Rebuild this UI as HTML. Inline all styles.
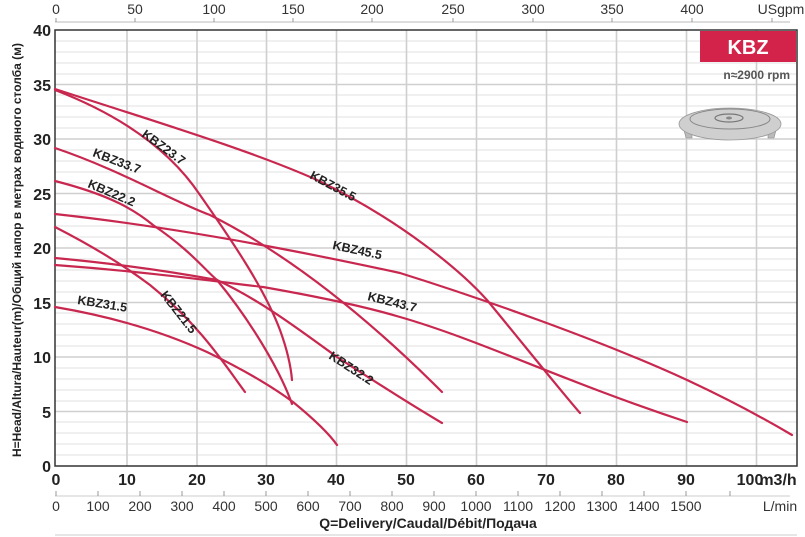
<!DOCTYPE html>
<html><head><meta charset="utf-8"><style>
html,body{margin:0;padding:0;background:#fff;}
svg{display:block;font-family:"Liberation Sans",Arial,sans-serif;}
.n{font-family:"Liberation Sans Narrow","Liberation Sans",Arial,sans-serif;}
</style></head><body>
<svg width="805" height="537" viewBox="0 0 805 537" xmlns="http://www.w3.org/2000/svg">
<g id="grid">
<g stroke="#e2e2e2" stroke-width="1">
<line x1="55" x2="797" y1="41" y2="41"/><line x1="55" x2="797" y1="52" y2="52"/><line x1="55" x2="797" y1="63" y2="63"/><line x1="55" x2="797" y1="74" y2="74"/>
<line x1="55" x2="797" y1="95" y2="95"/><line x1="55" x2="797" y1="106" y2="106"/><line x1="55" x2="797" y1="117" y2="117"/><line x1="55" x2="797" y1="128" y2="128"/>
<line x1="55" x2="797" y1="150" y2="150"/><line x1="55" x2="797" y1="161" y2="161"/><line x1="55" x2="797" y1="172" y2="172"/><line x1="55" x2="797" y1="183" y2="183"/>
<line x1="55" x2="797" y1="204" y2="204"/><line x1="55" x2="797" y1="215" y2="215"/><line x1="55" x2="797" y1="226" y2="226"/><line x1="55" x2="797" y1="237" y2="237"/>
<line x1="55" x2="797" y1="259" y2="259"/><line x1="55" x2="797" y1="270" y2="270"/><line x1="55" x2="797" y1="281" y2="281"/><line x1="55" x2="797" y1="292" y2="292"/>
<line x1="55" x2="797" y1="313" y2="313"/><line x1="55" x2="797" y1="324" y2="324"/><line x1="55" x2="797" y1="335" y2="335"/><line x1="55" x2="797" y1="346" y2="346"/>
<line x1="55" x2="797" y1="368" y2="368"/><line x1="55" x2="797" y1="379" y2="379"/><line x1="55" x2="797" y1="390" y2="390"/><line x1="55" x2="797" y1="401" y2="401"/>
<line x1="55" x2="797" y1="422" y2="422"/><line x1="55" x2="797" y1="433" y2="433"/><line x1="55" x2="797" y1="444" y2="444"/><line x1="55" x2="797" y1="455" y2="455"/>
</g>
<g stroke="#e2e2e2" stroke-width="1" id="vminor"></g>
<g stroke="#cfcfcf" stroke-width="1.6">
<line x1="55" x2="797" y1="84.5" y2="84.5"/><line x1="55" x2="797" y1="139" y2="139"/><line x1="55" x2="797" y1="193.5" y2="193.5"/><line x1="55" x2="797" y1="248" y2="248"/>
<line x1="55" x2="797" y1="302.5" y2="302.5"/><line x1="55" x2="797" y1="357" y2="357"/><line x1="55" x2="797" y1="411.5" y2="411.5"/>
<line y1="30" y2="466" x1="127" x2="127"/><line y1="30" y2="466" x1="197" x2="197"/><line y1="30" y2="466" x1="266.5" x2="266.5"/><line y1="30" y2="466" x1="336.5" x2="336.5"/>
<line y1="30" y2="466" x1="406.5" x2="406.5"/><line y1="30" y2="466" x1="476.5" x2="476.5"/><line y1="30" y2="466" x1="546.5" x2="546.5"/><line y1="30" y2="466" x1="616.5" x2="616.5"/>
<line y1="30" y2="466" x1="686.5" x2="686.5"/><line y1="30" y2="466" x1="756.5" x2="756.5"/>
</g>
</g>
<script>
(function(){var g=document.getElementById('vminor');var s='';for(var q=2;q<106;q+=2){if(q%10==0)continue;var x=56.5+6.995*q;if(x>796)break;s+='<line y1="30" y2="466" x1="'+x.toFixed(1)+'" x2="'+x.toFixed(1)+'"/>';}g.innerHTML=s;})();
</script>
<rect x="55" y="30" width="742" height="436" fill="none" stroke="#333" stroke-width="1.5"/>
<rect x="700" y="31" width="96" height="31" fill="#d3234b"/>
<text x="748" y="54" font-size="20" font-weight="bold" fill="#fff" text-anchor="middle">KBZ</text>
<text x="790" y="79" font-size="12" font-weight="bold" fill="#555" text-anchor="end">n≈2900 rpm</text>
<g>
<path d="M684 130 L686 138 L692 138 L692 134 L768 134 L768 138 L774 138 L776 130 Z" fill="#bbb" stroke="#888" stroke-width="0.6"/>
<ellipse cx="730" cy="124" rx="51" ry="16" fill="#cfcfcf" stroke="#999" stroke-width="0.8"/>
<ellipse cx="730" cy="119" rx="40" ry="10" fill="none" stroke="#888" stroke-width="1"/>
<ellipse cx="729" cy="118" rx="14" ry="4" fill="none" stroke="#777" stroke-width="1.2"/>
<ellipse cx="729" cy="118" rx="3" ry="1.5" fill="#888"/>
</g>
<g fill="none" stroke="#c8284f" stroke-width="2.2" stroke-linecap="round" stroke-linejoin="round">
<path d="M55 89 C150 120 250 150 317 180 C400 220 460 270 487 300 C520 340 560 390 580 413"/>
<path d="M55 90 C120 115 170 150 200 195 C235 245 265 290 280 330 C288 352 291 368 292 380"/>
<path d="M55 148 C120 170 170 200 210 215 C300 260 380 330 442 392"/>
<path d="M55 181 C110 195 135 210 153 225 C190 250 205 270 217 280 C250 320 280 370 292 404"/>
<path d="M55 214 C200 230 340 260 400 273 C480 298 600 340 687 380 C730 400 770 422 792 435"/>
<path d="M55 258 C130 265 190 275 217 280 C260 300 300 330 337 357 C380 385 420 410 442 423"/>
<path d="M55 265 C150 272 220 282 263 287 C320 297 370 308 400 317 C480 340 560 380 687 422"/>
<path d="M55 227 C100 250 130 270 150 285 C200 325 225 365 245 392"/>
<path d="M55 307 C120 318 170 335 207 352 C240 368 270 385 293 402 C315 420 330 435 337 445"/>
</g>
<g font-size="12.5" font-weight="bold" fill="#222">
<text transform="translate(141,136) rotate(36)">KBZ23.7</text>
<text transform="translate(92,156) rotate(21)">KBZ33.7</text>
<text transform="translate(87,187) rotate(23)">KBZ22.2</text>
<text transform="translate(309,178) rotate(28)">KBZ35.5</text>
<text transform="translate(332,249) rotate(12)">KBZ45.5</text>
<text transform="translate(367,300) rotate(14)">KBZ43.7</text>
<text transform="translate(77,304) rotate(9)">KBZ31.5</text>
<text transform="translate(160,295) rotate(52)">KBZ21.5</text>
<text transform="translate(328,358) rotate(33)">KBZ32.2</text>
</g>
<g class="n" font-size="16" font-weight="bold" fill="#222" text-anchor="end">
<text x="51" y="36">40</text><text x="51" y="91">35</text><text x="51" y="145">30</text><text x="51" y="200">25</text>
<text x="51" y="254">20</text><text x="51" y="309">15</text><text x="51" y="363">10</text><text x="51" y="418">5</text><text x="51" y="472">0</text>
</g>
<text class="n" transform="translate(21,250) rotate(-90)" font-size="12" font-weight="bold" fill="#222" text-anchor="middle">H=Head/Altura/Hauteur(m)/Общий напор в метрах водяного столба (м)</text>
<line x1="55" x2="790" y1="22" y2="22" stroke="#bbb" stroke-width="1"/>
<g stroke="#999"><line x1="56" x2="56" y1="18" y2="22"/><line x1="135" x2="135" y1="18" y2="22"/><line x1="214" x2="214" y1="18" y2="22"/><line x1="293" x2="293" y1="18" y2="22"/><line x1="372" x2="372" y1="18" y2="22"/><line x1="453" x2="453" y1="18" y2="22"/><line x1="533" x2="533" y1="18" y2="22"/><line x1="612" x2="612" y1="18" y2="22"/><line x1="692" x2="692" y1="18" y2="22"/><line x1="772" x2="772" y1="18" y2="22"/></g>
<g class="n" font-size="14" fill="#333" text-anchor="middle">
<text x="56" y="14">0</text><text x="135" y="14">50</text><text x="214" y="14">100</text><text x="293" y="14">150</text><text x="372" y="14">200</text>
<text x="453" y="14">250</text><text x="533" y="14">300</text><text x="612" y="14">350</text><text x="692" y="14">400</text><text x="781" y="14">USgpm</text>
</g>
<g class="n" font-size="16" font-weight="bold" fill="#222" text-anchor="middle">
<text x="56" y="485">0</text><text x="127" y="485">10</text><text x="197" y="485">20</text><text x="266" y="485">30</text><text x="336" y="485">40</text>
<text x="406" y="485">50</text><text x="476" y="485">60</text><text x="546" y="485">70</text><text x="616" y="485">80</text><text x="686" y="485">90</text>
<text x="750" y="485">100</text><text x="778" y="485">m3/h</text>
</g>
<line x1="55" x2="790" y1="496" y2="496" stroke="#ccc"/>
<g stroke="#999"><line x1="56" x2="56" y1="491" y2="496"/><line x1="98" x2="98" y1="491" y2="496"/><line x1="140" x2="140" y1="491" y2="496"/><line x1="182" x2="182" y1="491" y2="496"/><line x1="224" x2="224" y1="491" y2="496"/><line x1="266" x2="266" y1="491" y2="496"/><line x1="308" x2="308" y1="491" y2="496"/><line x1="350" x2="350" y1="491" y2="496"/><line x1="392" x2="392" y1="491" y2="496"/><line x1="434" x2="434" y1="491" y2="496"/><line x1="476" x2="476" y1="491" y2="496"/><line x1="518" x2="518" y1="491" y2="496"/><line x1="560" x2="560" y1="491" y2="496"/><line x1="602" x2="602" y1="491" y2="496"/><line x1="644" x2="644" y1="491" y2="496"/><line x1="686" x2="686" y1="491" y2="496"/><line x1="730" x2="730" y1="491" y2="496"/></g>
<g class="n" font-size="14" fill="#333" text-anchor="middle">
<text x="56" y="511">0</text><text x="98" y="511">100</text><text x="140" y="511">200</text><text x="182" y="511">300</text><text x="224" y="511">400</text>
<text x="266" y="511">500</text><text x="308" y="511">600</text><text x="350" y="511">700</text><text x="392" y="511">800</text><text x="434" y="511">900</text>
<text x="476" y="511">1000</text><text x="518" y="511">1100</text><text x="560" y="511">1200</text><text x="602" y="511">1300</text><text x="644" y="511">1400</text>
<text x="686" y="511">1500</text><text x="780" y="511">L/min</text>
</g>
<text class="n" x="428" y="528" font-size="14" font-weight="bold" fill="#222" text-anchor="middle">Q=Delivery/Caudal/Débit/Подача</text>
<line x1="55" x2="797" y1="535" y2="535" stroke="#ccc"/>
</svg>
</body></html>
